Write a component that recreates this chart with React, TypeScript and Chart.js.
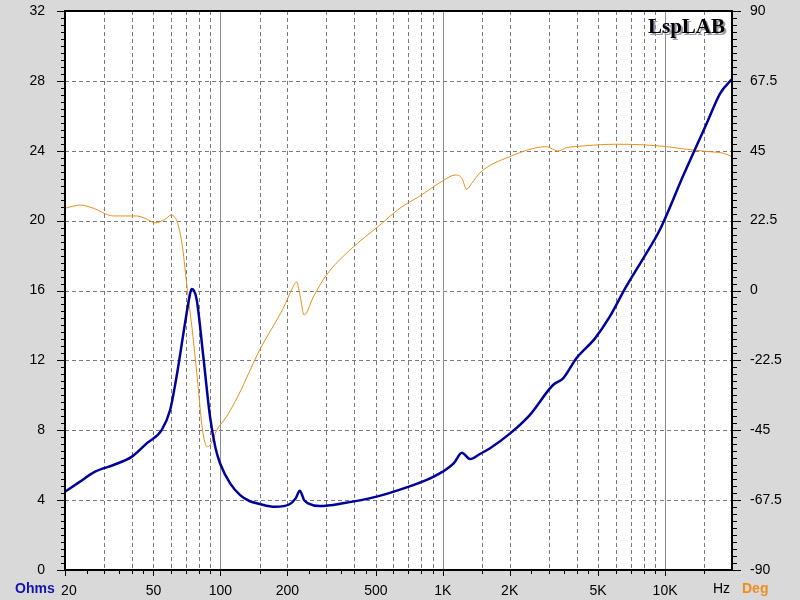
import React, { useEffect, useRef } from "react";
import { Chart, registerables } from "chart.js";
Chart.register(...registerables);

// Impedance magnitude (Ohms) vs frequency (Hz)
const impFreq = [20, 23, 27.3, 33, 40, 46.6, 54.4, 59.4, 63.5, 69.3, 72.5, 74.2, 76, 78.3, 83.8, 89.8, 95, 99.7, 110.6, 122.7, 135, 150, 175.8, 205.6, 218, 227.6, 238, 248, 280, 356, 504, 688, 878, 1000, 1120, 1220, 1326, 1470, 1632, 2010, 2462, 3134, 3480, 3992, 4840, 5640, 6680, 7980, 9460, 12100, 13700, 15400, 17700, 20000];
const impOhm = [4.48, 5.0, 5.63, 6.01, 6.49, 7.25, 8.01, 9.16, 11.07, 14.12, 15.6, 16.08, 16.0, 15.45, 12.21, 8.78, 7.0, 6.1, 4.96, 4.29, 3.95, 3.78, 3.62, 3.78, 4.1, 4.54, 4.0, 3.82, 3.66, 3.82, 4.2, 4.73, 5.25, 5.63, 6.1, 6.71, 6.35, 6.64, 6.97, 7.82, 8.87, 10.59, 10.97, 12.12, 13.26, 14.5, 16.22, 17.84, 19.46, 22.61, 24.14, 25.57, 27.29, 28.1];

// Phase (degrees) vs frequency (Hz)
const phFreq = [20, 23.4, 26.8, 33, 42, 46, 50.9, 56, 60.2, 62.5, 64.3, 67.5, 71, 74.7, 78.6, 83.1, 87.2, 89.8, 96.4, 106.6, 120, 150, 191.7, 210, 220, 228, 238, 262, 300, 382, 522, 642, 788, 1000, 1138, 1220, 1280, 1350, 1470, 2000, 2930, 3300, 3600, 3900, 6060, 8000, 10200, 13400, 15800, 18300, 20000];
const phDeg = [26.5, 27.5, 26.5, 24.0, 24.0, 23.2, 21.8, 22.8, 24.3, 23.5, 21.6, 14.1, 0.2, -12.7, -27.8, -44.9, -50.3, -49.8, -44.9, -40.6, -34, -19.2, -5.7, 0.5, 2.8, -1.5, -7.9, -2.0, 5.0, 13.0, 21.1, 26.5, 30.4, 35.3, 37.2, 36.1, 32.6, 34.5, 37.9, 43.1, 46.3, 44.9, 46.0, 46.3, 47.1, 46.9, 46.3, 45.2, 44.7, 44.2, 43.1];

const freqLabelValues = [20, 50, 100, 200, 500, 1000, 2000, 5000, 10000];
const freqLabelTexts = ["  20", "50", "100", "200", "500", "1K", "2K", "5K", "10K"];
const dashedFreqs = [30, 40, 50, 60, 70, 80, 90, 150, 200, 300, 400, 500, 600, 700, 800, 900, 1500, 2000, 3000, 4000, 5000, 6000, 7000, 8000, 9000, 15000];
const solidFreqs = [100, 1000, 10000];
const minorTickFreqs = [25, 30, 35, 40, 45, 60, 70, 80, 90, 150, 250, 300, 350, 400, 450, 600, 700, 800, 900, 1500, 2500, 3000, 3500, 4000, 4500, 6000, 7000, 8000, 9000, 15000];
const majorTickFreqs = [20, 50, 100, 200, 500, 1000, 2000, 5000, 10000];

const BLUE = "#00009a";
const ORANGE = "#e8901c";
const FONT = "Liberation Sans, Arial, sans-serif";

const decor = {
  id: "decor",
  beforeDraw(chart: any) {
    const { ctx, chartArea: a } = chart;
    ctx.save();
    ctx.fillStyle = "#d9d9d9";
    ctx.fillRect(0, 0, chart.width, chart.height);
    ctx.fillStyle = "#ffffff";
    ctx.fillRect(a.left, a.top, a.right - a.left, a.bottom - a.top);
    ctx.restore();
  },
  beforeDatasetsDraw(chart: any) {
    const { ctx, chartArea: a, scales } = chart;
    const xs = scales.x, ys = scales.y;
    ctx.save();
    ctx.lineWidth = 1;
    ctx.strokeStyle = "#7a7a7a";
    ctx.setLineDash([4, 3]);
    for (const f of dashedFreqs) {
      const x = Math.round(xs.getPixelForValue(f)) + 0.5;
      ctx.beginPath(); ctx.moveTo(x, a.top); ctx.lineTo(x, a.bottom); ctx.stroke();
    }
    for (let v = 4; v < 32; v += 4) {
      const y = Math.round(ys.getPixelForValue(v)) + 0.5;
      ctx.beginPath(); ctx.moveTo(a.left, y); ctx.lineTo(a.right, y); ctx.stroke();
    }
    ctx.setLineDash([]);
    ctx.strokeStyle = "#8c8c8c";
    for (const f of solidFreqs) {
      const x = Math.round(xs.getPixelForValue(f)) + 0.5;
      ctx.beginPath(); ctx.moveTo(x, a.top); ctx.lineTo(x, a.bottom); ctx.stroke();
    }
    ctx.restore();
  },
  afterDatasetsDraw(chart: any) {
    const { ctx, chartArea: a, scales } = chart;
    const xs = scales.x, ys = scales.y;
    ctx.save();
    ctx.strokeStyle = "#000";
    ctx.lineWidth = 2;
    ctx.strokeRect(a.left, a.top, a.right - a.left, a.bottom - a.top);
    ctx.lineWidth = 1;
    for (let i = 0; i <= 80; i++) {
      const v = i * 0.4;
      const y = Math.round(ys.getPixelForValue(v)) + 0.5;
      const major = i % 10 === 0;
      const len = major ? 8 : 4;
      ctx.beginPath(); ctx.moveTo(a.left - len, y); ctx.lineTo(a.left, y); ctx.stroke();
      ctx.beginPath(); ctx.moveTo(a.right, y); ctx.lineTo(a.right + (major ? 9 : 5), y); ctx.stroke();
    }
    for (const f of majorTickFreqs) {
      const x = Math.round(xs.getPixelForValue(f)) + 0.5;
      ctx.beginPath(); ctx.moveTo(x, a.bottom); ctx.lineTo(x, a.bottom + 6); ctx.stroke();
    }
    for (const f of minorTickFreqs) {
      const x = Math.round(xs.getPixelForValue(f)) + 0.5;
      ctx.beginPath(); ctx.moveTo(x, a.bottom); ctx.lineTo(x, a.bottom + 4); ctx.stroke();
    }
    ctx.textBaseline = "alphabetic";
    ctx.font = "bold 14px " + FONT;
    ctx.fillStyle = "#1212a8";
    ctx.textAlign = "left";
    ctx.fillText("Ohms", 15, 593);
    ctx.fillStyle = "#f08c1e";
    ctx.fillText("Deg", 742, 593);
    ctx.font = "14px " + FONT;
    ctx.fillStyle = "#000";
    ctx.fillText("Hz", 713, 593);
    ctx.font = "bold 21px Liberation Serif, Times New Roman, serif";
    ctx.textAlign = "right";
    ctx.fillStyle = "#9a9aa8";
    ctx.fillText("LspLAB", 727, 35);
    ctx.fillStyle = "#000";
    ctx.fillText("LspLAB", 725, 33);
    ctx.restore();
  },
};

export default function App() {
  const ref = useRef<HTMLCanvasElement>(null);
  useEffect(() => {
    if (!ref.current) return;
    const chart = new Chart(ref.current, {
      type: "line",
      data: {
        datasets: [
          {
            label: "Ohms",
            data: impFreq.map((f, i) => ({ x: f, y: impOhm[i] })),
            borderColor: BLUE,
            borderWidth: 2.5,
            pointRadius: 0,
            cubicInterpolationMode: "monotone",
            yAxisID: "y",
            fill: false,
          },
          {
            label: "Deg",
            data: phFreq.map((f, i) => ({ x: f, y: phDeg[i] })),
            borderColor: ORANGE,
            borderWidth: 1,
            pointRadius: 0,
            cubicInterpolationMode: "monotone",
            yAxisID: "y1",
            fill: false,
          },
        ],
      },
      options: {
        responsive: false,
        animation: false,
        devicePixelRatio: 1,
        layout: { padding: { top: 11, left: 0, right: 0, bottom: 0 } },
        plugins: { legend: { display: false }, tooltip: { enabled: false } },
        scales: {
          x: {
            type: "logarithmic",
            min: 20,
            max: 20000,
            grid: { display: false },
            border: { display: false },
            afterBuildTicks: (s: any) => {
              s.ticks = freqLabelValues.map((v) => ({ value: v }));
            },
            afterFit: (s: any) => {
              s.height = 30;
              s.paddingLeft = 0;
              s.paddingRight = 0;
            },
            ticks: {
              autoSkip: false,
              maxRotation: 0,
              padding: 5,
              color: "#000",
              font: { family: FONT, size: 14 },
              callback: (v: any) => {
                const i = freqLabelValues.indexOf(Number(v));
                return i >= 0 ? freqLabelTexts[i] : "";
              },
            },
          },
          y: {
            position: "left",
            min: 0,
            max: 32,
            grid: { display: false },
            border: { display: false },
            afterFit: (s: any) => {
              s.width = 65;
              s.paddingTop = 0;
              s.paddingBottom = 0;
            },
            ticks: {
              stepSize: 4,
              padding: 12,
              color: "#000",
              font: { family: FONT, size: 14 },
              callback: (v: any) => String(v),
            },
          },
          y1: {
            position: "right",
            min: -90,
            max: 90,
            grid: { display: false },
            border: { display: false },
            afterFit: (s: any) => {
              s.width = 68;
              s.paddingTop = 0;
              s.paddingBottom = 0;
            },
            ticks: {
              stepSize: 22.5,
              padding: 10,
              color: "#000",
              font: { family: FONT, size: 14 },
              callback: (v: any) => String(v),
            },
          },
        },
      },
      plugins: [decor],
    } as any);
    return () => chart.destroy();
  }, []);
  return (
    <div style={{ position: "absolute", left: 0, top: 0, width: 800, height: 600 }}>
      <canvas ref={ref} width={800} height={600} style={{ display: "block" }} />
    </div>
  );
}
